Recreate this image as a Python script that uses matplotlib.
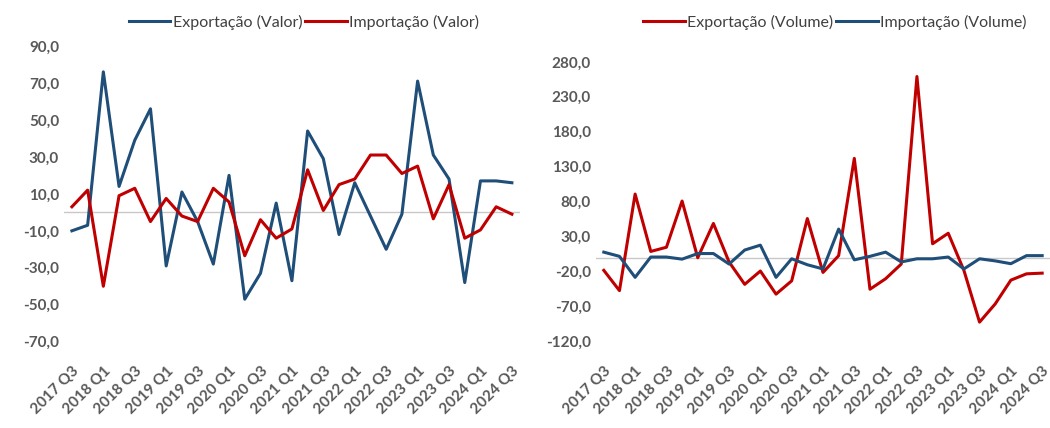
import matplotlib
matplotlib.use("Agg")
import matplotlib.pyplot as plt
from matplotlib.ticker import FuncFormatter

quarters = ['2017 Q3', '2017 Q4',
            '2018 Q1', '2018 Q2', '2018 Q3', '2018 Q4',
            '2019 Q1', '2019 Q2', '2019 Q3', '2019 Q4',
            '2020 Q1', '2020 Q2', '2020 Q3', '2020 Q4',
            '2021 Q1', '2021 Q2', '2021 Q3', '2021 Q4',
            '2022 Q1', '2022 Q2', '2022 Q3', '2022 Q4',
            '2023 Q1', '2023 Q2', '2023 Q3', '2023 Q4',
            '2024 Q1', '2024 Q2', '2024 Q3']

# variação homóloga (%) - valor
exp_valor = [-10, -7, 76, 14, 39, 56, -29, 11, -5, -28, 20, -47, -33, 5, -37,
             44, 29, -12, 16, -2, -20, -1, 71, 31, 18, -38, 17, 17, 16]
imp_valor = [3, 12, -40, 9, 13, -5, 7.5, -2, -5, 13, 5.6, -23.5, -4, -14, -9,
             23, 1, 15, 18, 31, 31, 21, 25, -3.5, 15, -14, -9.5, 3, -1]

# variação homóloga (%) - volume
exp_volume = [-18, -47, 91, 9, 15, 81, 0, 49, -6, -38, -19, -52, -33, 56, -21,
              3, 142, -45, -30, -9, 259, 20, 35, -18, -92, -66, -32, -23, -22]
imp_volume = [8, 2, -28, 1, 1, -2, 6, 6, -9, 11, 18, -28, -1.5, -10, -16,
              41, -3, 2, 8, -6, -1.5, -1.5, 1, -16, -1.5, -4.5, -8.5, 3, 3]

blue = '#1f4e79'
red = '#c00000'
txt = '#595959'
plt.rcParams['font.family'] = ['Lato', 'DejaVu Sans']

fig = plt.figure(figsize=(10.5, 4.28), dpi=100)
ax1 = fig.add_axes([0.061, 0.2016, 0.434, 0.691])
ax2 = fig.add_axes([0.5676, 0.2016, 0.4324, 0.654])

fmt = FuncFormatter(lambda v, p: ('%.1f' % v).replace('.', ','))
x = list(range(len(quarters)))


def style_axis(ax, ymin, ymax, step):
    ax.axhline(0, color='#c8c8c8', lw=1, zorder=1)
    ax.set_xlim(-0.5, len(quarters) - 0.5)
    ax.set_ylim(ymin, ymax)
    ax.set_yticks(range(ymin, ymax + 1, step))
    ax.yaxis.set_major_formatter(fmt)
    ax.set_xticks(x[::2])
    ax.set_xticklabels(quarters[::2], rotation=45, ha='right', va='top',
                       rotation_mode='anchor')
    ax.tick_params(length=0, colors=txt, labelsize=11)
    ax.tick_params(axis='x', pad=16)
    for lab in ax.get_xticklabels() + ax.get_yticklabels():
        lab.set_fontweight('bold')
    for s in ax.spines.values():
        s.set_visible(False)


ax1.plot(x, exp_valor, color=blue, lw=2.2, label='Exportação (Valor)', zorder=3)
ax1.plot(x, imp_valor, color=red, lw=2.2, label='Importação (Valor)', zorder=3)
style_axis(ax1, -70, 90, 20)

ax2.plot(x, exp_volume, color=red, lw=2.2, label='Exportação (Volume)', zorder=3)
ax2.plot(x, imp_volume, color=blue, lw=2.2, label='Importação (Volume)', zorder=3)
style_axis(ax2, -120, 280, 50)

# legends above each panel
for ax, xc in [(ax1, 304 / 1050), (ax2, 835 / 1050)]:
    leg = fig.legend(*ax.get_legend_handles_labels(), loc='center',
                     bbox_to_anchor=(xc, 1 - 22 / 428), ncol=2, frameon=False,
                     fontsize=11.5, handlelength=2.6, handletextpad=0.15,
                     columnspacing=0.2, labelcolor='#404040')

fig.savefig('out.png', dpi=100)
